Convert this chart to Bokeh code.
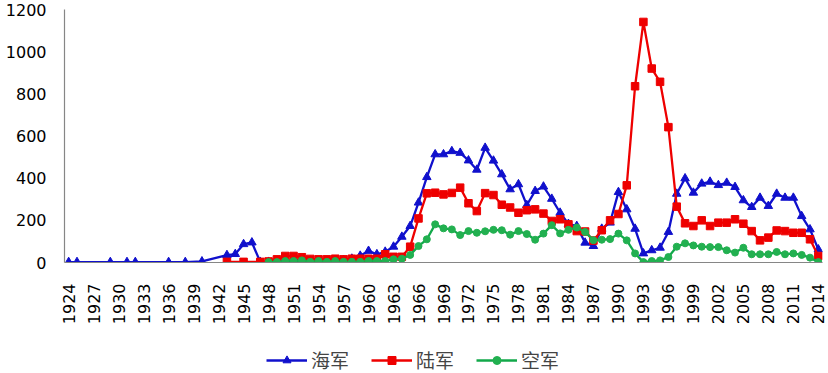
import math
from bokeh.plotting import figure
from bokeh.layouts import column
from bokeh.models import Legend, LegendItem, FixedTicker, Range1d
from bokeh.embed import file_html
from bokeh.resources import INLINE

# ---------------- data ----------------
navy_years = [1924, 1925, 1929, 1931, 1932, 1936, 1938, 1940, 1943, 1944, 1945, 1946, 1947,
              1948, 1949, 1950, 1951, 1952, 1953, 1954, 1955, 1956, 1957, 1958, 1959,
              1960, 1961, 1962, 1963, 1964, 1965, 1966, 1967, 1968, 1969,
              1970, 1971, 1972, 1973, 1974, 1975, 1976, 1977, 1978, 1979,
              1980, 1981, 1982, 1983, 1984, 1985, 1986, 1987, 1988, 1989,
              1990, 1991, 1992, 1993, 1994, 1995, 1996, 1997, 1998, 1999,
              2000, 2001, 2002, 2003, 2004, 2005, 2006, 2007, 2008, 2009,
              2010, 2011, 2012, 2013, 2014]
navy_vals = [2, 2, 2, 2, 2, 2, 2, 5, 35, 40, 87, 95, 3,
             3, 5, 8, 10, 12, 8, 6, 5, 8, 12, 18, 32,
             55, 39, 51, 75, 122, 173, 284, 405, 513, 513,
             528, 520, 484, 440, 544, 483, 418, 347, 371, 272,
             339, 360, 302, 236, 183, 173, 94, 78, 160, 189,
             334, 252, 160, 43, 58, 70, 145, 326, 399, 331,
             374, 383, 367, 378, 358, 295, 263, 307, 268, 326,
             307, 307, 220, 157, 62]

army_years = [1943, 1945, 1947,
              1948, 1949, 1950, 1951, 1952, 1953, 1954, 1955, 1956, 1957, 1958, 1959,
              1960, 1961, 1962, 1963, 1964, 1965, 1966, 1967, 1968, 1969,
              1970, 1971, 1972, 1973, 1974, 1975, 1976, 1977, 1978, 1979,
              1980, 1981, 1982, 1983, 1984, 1985, 1986, 1987, 1988, 1989,
              1990, 1991, 1992, 1993, 1994, 1995, 1996, 1997, 1998, 1999,
              2000, 2001, 2002, 2003, 2004, 2005, 2006, 2007, 2008, 2009,
              2010, 2011, 2012, 2013, 2014]
army_vals = [3, 3, 3,
             5, 15, 31, 31, 25, 17, 15, 15, 18, 15, 18, 18,
             18, 18, 39, 27, 27, 75, 209, 328, 331, 323,
             330, 355, 281, 244, 329, 320, 274, 261, 236, 248,
             252, 232, 197, 205, 181, 149, 147, 104, 153, 200,
             230, 366, 836, 1141, 920, 857, 642, 265, 186, 173,
             200, 173, 189, 189, 205, 184, 149, 105, 118, 152,
             149, 141, 141, 110, 31]

air_years = [1948, 1949, 1950, 1951, 1952, 1953, 1954, 1955, 1956, 1957, 1958, 1959,
             1960, 1961, 1962, 1963, 1964, 1965, 1966, 1967, 1968, 1969,
             1970, 1971, 1972, 1973, 1974, 1975, 1976, 1977, 1978, 1979,
             1980, 1981, 1982, 1983, 1984, 1985, 1986, 1987, 1988, 1989,
             1990, 1991, 1992, 1993, 1994, 1995, 1996, 1997, 1998, 1999,
             2000, 2001, 2002, 2003, 2004, 2005, 2006, 2007, 2008, 2009,
             2010, 2011, 2012, 2013, 2014]
air_vals = [2, 2, 7, 7, 10, 3, 7, 3, 7, 3, 3, 3,
            7, 7, 7, 15, 18, 36, 78, 110, 181, 162,
            157, 130, 149, 141, 148, 155, 153, 132, 149, 135,
            108, 137, 177, 138, 155, 166, 145, 106, 108, 111,
            137, 105, 43, 2, 7, 10, 26, 75, 91, 81,
            75, 73, 73, 58, 47, 70, 39, 39, 39, 50,
            39, 43, 36, 23, 2]

x_tick_years = [1924, 1927, 1930, 1933, 1936, 1939, 1942, 1945, 1948, 1951, 1954,
                1957, 1960, 1963, 1966, 1969, 1972, 1975, 1978, 1981, 1984, 1987,
                1990, 1993, 1996, 1999, 2002, 2005, 2008, 2011, 2014]
y_ticks = [0, 200, 400, 600, 800, 1000, 1200]

series_names = ["海军", "陆军", "空军"]

# ---------------- styling ----------------
BLUE = "#1010CC"
RED = "#EE0000"
GREEN = "#12A84A"
GREEN_MK = "#22B050"
AXIS = "#868686"
FONT = "DejaVu Sans"
CJK = "Noto Sans CJK SC"
LW = 2.3

p = figure(width=828, height=330, output_backend="svg", toolbar_location=None,
           x_range=Range1d(1923.5, 2014.5), y_range=Range1d(0, 1200),
           min_border_left=64, min_border_right=6, min_border_top=9,
           min_border_bottom=68)
p.outline_line_color = None
p.xgrid.grid_line_color = None
p.ygrid.grid_line_color = None
p.background_fill_color = "white"
p.border_fill_color = "white"

for ax in (p.xaxis[0], p.yaxis[0]):
    ax.axis_line_color = AXIS
    ax.axis_line_width = 1.2
    ax.major_tick_line_color = None
    ax.minor_tick_line_color = None
    ax.major_tick_out = 0
    ax.major_tick_in = 0
    ax.minor_tick_out = 0
    ax.minor_tick_in = 0
    ax.major_label_text_font = FONT
    ax.major_label_text_font_size = "16px"
    ax.major_label_text_color = "#000000"

p.xaxis[0].ticker = FixedTicker(ticks=x_tick_years)
p.xaxis[0].major_label_orientation = math.pi / 2
p.xaxis[0].major_label_standoff = 21
p.yaxis[0].ticker = FixedTicker(ticks=y_ticks)
p.yaxis[0].major_label_standoff = 18

p.line(navy_years, navy_vals, line_color=BLUE, line_width=LW)
p.scatter(navy_years, navy_vals, marker="triangle", size=8.5,
          fill_color=BLUE, line_color=BLUE)
p.line(army_years, army_vals, line_color=RED, line_width=LW)
p.scatter(army_years, army_vals, marker="square", size=7.5,
          fill_color=RED, line_color=RED)
p.line(air_years, air_vals, line_color=GREEN, line_width=LW)
p.scatter(air_years, air_vals, marker="circle", size=7,
          fill_color=GREEN_MK, line_color=GREEN_MK)

# ---------------- legend strip (below the chart) ----------------
# The same series are drawn here outside the visible range, only so that
# the legend keys have renderers with data.
pl = figure(width=828, height=43, output_backend="svg", toolbar_location=None,
            x_range=Range1d(0, 1), y_range=Range1d(0, 1),
            x_axis_location=None, y_axis_location=None,
            min_border_left=0, min_border_right=0, min_border_top=0,
            min_border_bottom=0)
pl.xgrid.grid_line_color = None
pl.ygrid.grid_line_color = None
pl.outline_line_color = None
pl.border_fill_color = "white"

k_navy_l = pl.line(navy_years, navy_vals, line_color=BLUE, line_width=LW)
k_navy_m = pl.scatter(navy_years, navy_vals, marker="triangle", size=7,
                      fill_color=BLUE, line_color=BLUE)
k_army_l = pl.line(army_years, army_vals, line_color=RED, line_width=LW)
k_army_m = pl.scatter(army_years, army_vals, marker="square", size=7,
                      fill_color=RED, line_color=RED)
k_air_l = pl.line(air_years, air_vals, line_color=GREEN, line_width=LW)
k_air_m = pl.scatter(air_years, air_vals, marker="circle", size=6.5,
                     fill_color=GREEN_MK, line_color=GREEN_MK)

legend = Legend(items=[
    LegendItem(label=series_names[0], renderers=[k_navy_l, k_navy_m]),
    LegendItem(label=series_names[1], renderers=[k_army_l, k_army_m]),
    LegendItem(label=series_names[2], renderers=[k_air_l, k_air_m]),
], orientation="horizontal", location=(202, 0),
    glyph_width=41, glyph_height=20, label_standoff=4, spacing=22,
    padding=0, margin=0, border_line_color=None, background_fill_alpha=0,
    label_text_font=CJK, label_text_font_size="19px", label_height=20)
pl.add_layout(legend)

layout = column(p, pl, spacing=0)
open("out.html", "w").write(file_html(layout, INLINE))
